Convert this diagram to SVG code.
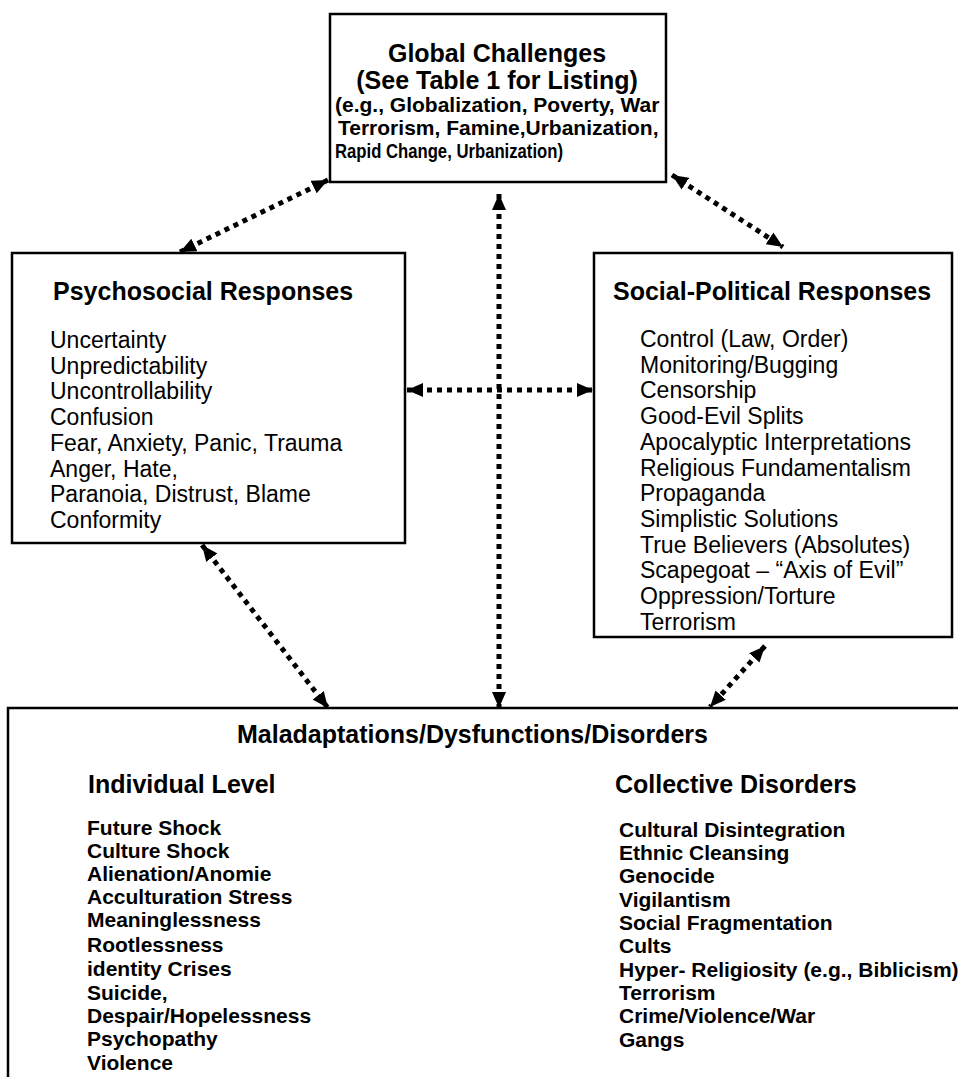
<svg xmlns="http://www.w3.org/2000/svg" width="958" height="1077" viewBox="0 0 958 1077">
<style>
.box{fill:#fff;stroke:#000;stroke-width:2.5}
.t{font-family:"Liberation Sans",Arial,sans-serif;font-weight:bold;font-size:25px;fill:#000}
.s{font-family:"Liberation Sans",Arial,sans-serif;font-weight:bold;font-size:21px;fill:#000}
.r{font-family:"Liberation Sans",Arial,sans-serif;font-size:23px;fill:#000}
.c{fill:none;stroke:#000;stroke-width:5;stroke-dasharray:5 5;marker-start:url(#ah);marker-end:url(#ah)}
</style>
<defs>
<marker id="ah" viewBox="0 0 16 14" refX="16" refY="7" markerWidth="16" markerHeight="14" markerUnits="userSpaceOnUse" orient="auto-start-reverse">
<path d="M0,0 L16,7 L0,14 z" fill="#000"/>
</marker>
</defs>
<rect width="958" height="1077" fill="#fff"/>

<g id="global">
<rect class="box" x="330" y="14" width="336" height="168"/>
<text class="t" x="497" y="62" text-anchor="middle">Global Challenges</text>
<text class="t" x="497" y="89" text-anchor="middle">(See Table 1 for Listing)</text>
<text class="s" x="335" y="112">(e.g., Globalization, Poverty, War</text>
<text class="s" x="338" y="135">Terrorism, Famine,Urbanization,</text>
<text class="s" x="335" y="158" textLength="228" lengthAdjust="spacingAndGlyphs">Rapid Change, Urbanization)</text>
</g>

<g id="psychosocial">
<rect class="box" x="12" y="253" width="393" height="290"/>
<text class="t" x="53" y="300">Psychosocial Responses</text>
<text class="r" x="50" y="348">Uncertainty</text>
<text class="r" x="50" y="374">Unpredictability</text>
<text class="r" x="50" y="399">Uncontrollability</text>
<text class="r" x="50" y="425">Confusion</text>
<text class="r" x="50" y="451">Fear, Anxiety, Panic, Trauma</text>
<text class="r" x="50" y="477">Anger, Hate,</text>
<text class="r" x="50" y="502">Paranoia, Distrust, Blame</text>
<text class="r" x="50" y="528">Conformity</text>
</g>

<g id="sociopolitical">
<rect class="box" x="594" y="253" width="358" height="384"/>
<text class="t" x="613" y="300">Social-Political Responses</text>
<text class="r" x="640" y="347">Control (Law, Order)</text>
<text class="r" x="640" y="373">Monitoring/Bugging</text>
<text class="r" x="640" y="398">Censorship</text>
<text class="r" x="640" y="424">Good-Evil Splits</text>
<text class="r" x="640" y="450">Apocalyptic Interpretations</text>
<text class="r" x="640" y="476">Religious Fundamentalism</text>
<text class="r" x="640" y="501">Propaganda</text>
<text class="r" x="640" y="527">Simplistic Solutions</text>
<text class="r" x="640" y="553">True Believers (Absolutes)</text>
<text class="r" x="640" y="578">Scapegoat – “Axis of Evil”</text>
<text class="r" x="640" y="604">Oppression/Torture</text>
<text class="r" x="640" y="630">Terrorism</text>
</g>

<g id="maladaptations">
<rect class="box" x="8" y="708" width="970" height="400"/>
<text class="t" x="237" y="743">Maladaptations/Dysfunctions/Disorders</text>
<text class="t" x="88" y="793">Individual Level</text>
<text class="s" x="87" y="835">Future Shock</text>
<text class="s" x="87" y="858">Culture Shock</text>
<text class="s" x="87" y="881">Alienation/Anomie</text>
<text class="s" x="87" y="904">Acculturation Stress</text>
<text class="s" x="87" y="927">Meaninglessness</text>
<text class="s" x="87" y="952">Rootlessness</text>
<text class="s" x="87" y="976">identity Crises</text>
<text class="s" x="87" y="1000">Suicide,</text>
<text class="s" x="87" y="1023">Despair/Hopelessness</text>
<text class="s" x="87" y="1046">Psychopathy</text>
<text class="s" x="87" y="1070">Violence</text>
<text class="t" x="615" y="793">Collective Disorders</text>
<text class="s" x="619" y="837">Cultural Disintegration</text>
<text class="s" x="619" y="860">Ethnic Cleansing</text>
<text class="s" x="619" y="883">Genocide</text>
<text class="s" x="619" y="907">Vigilantism</text>
<text class="s" x="619" y="930">Social Fragmentation</text>
<text class="s" x="619" y="953">Cults</text>
<text class="s" x="619" y="977">Hyper- Religiosity (e.g., Biblicism)</text>
<text class="s" x="619" y="1000">Terrorism</text>
<text class="s" x="619" y="1023">Crime/Violence/War</text>
<text class="s" x="619" y="1047">Gangs</text>
</g>

<g id="connectors">
<path class="c" d="M328,180 L180,252"/>
<path class="c" d="M672,175 L783,247"/>
<path class="c" d="M499,194 L499,708"/>
<path class="c" d="M407,390 L593,390"/>
<path class="c" d="M202,545 L328,708"/>
<path class="c" d="M765,646 L710,707"/>
</g>
</svg>
